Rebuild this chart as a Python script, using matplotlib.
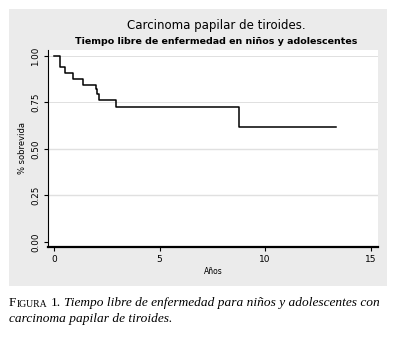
import matplotlib.pyplot as plt
from matplotlib.patches import Rectangle

# Kaplan-Meier steps
tiempo = [0, 0.28, 0.28, 0.5, 0.92, 1.39, 1.97, 2.02, 2.15, 2.95, 8.75, 13.36]
sobrevida = [1.0, 1.0, 0.939, 0.906, 0.874, 0.842, 0.82, 0.793, 0.761, 0.723, 0.62, 0.62]
yticks = [0.0, 0.25, 0.5, 0.75, 1.0]
ytick_labels = ['0.00', '0.25', '0.50', '0.75', '1.00']
xticks = [0, 5, 10, 15]

fig = plt.figure(figsize=(3.98, 3.5), dpi=100)
fig.patch.set_facecolor('white')
fig.add_artist(Rectangle((0.0226, 0.183), 0.9494, 0.791, transform=fig.transFigure,
                         facecolor='#ebebeb', edgecolor='none', zorder=0))

ax = fig.add_axes([0.1214, 0.2943, 0.8277, 0.5629])
ax.set_facecolor('white')
ax.step(tiempo, sobrevida, where='post', color='black', lw=1.1)

ax.set_xlim(-0.27, 15.34)
ax.set_ylim(-0.027, 1.032)
ax.set_yticks(yticks)
ax.set_yticklabels(ytick_labels, rotation=90, va='center', fontsize=6.3)
ax.set_xticks(xticks)
ax.set_xticklabels([str(t) for t in xticks], fontsize=6.5)
for y in yticks[1:]:
    ax.axhline(y, color='#e0e0e0', lw=1.0 if y in (0.25, 0.5) else 0.7, zorder=0)
ax.tick_params(axis='both', length=3, width=0.8, color='black', pad=3)
for s in ['top', 'right']:
    ax.spines[s].set_visible(False)
ax.spines['left'].set_linewidth(0.8)
ax.spines['bottom'].set_linewidth(1.6)
ax.set_ylabel('% sobrevida', fontsize=6, labelpad=3)
ax.set_xlabel('Años', fontsize=5.5, labelpad=2)

fig.text(0.543, 0.928, 'Carcinoma papilar de tiroides.', ha='center', va='center',
         fontsize=8.5)
fig.text(0.543, 0.88, 'Tiempo libre de enfermedad en niños y adolescentes', ha='center',
         va='center', fontsize=6.8, weight='semibold')

# caption, pieces chained one after the other
serif = 'Liberation Serif'
t1 = fig.text(0.0226, 0.126, 'F', fontsize=9.6, family=serif, va='baseline')
t2 = plt.annotate('IGURA', xy=(1, 0), xycoords=t1, xytext=(0.3, 0),
                  textcoords='offset points', fontsize=7, family=serif, va='bottom')
t3 = plt.annotate('1.', xy=(1, 0), xycoords=t2, xytext=(2.5, 0),
                  textcoords='offset points', fontsize=9.6, family=serif, va='bottom')
plt.annotate('Tiempo libre de enfermedad para niños y adolescentes con', xy=(1, 0),
             xycoords=t3, xytext=(2, 0), textcoords='offset points', fontsize=9.6,
             family=serif, style='italic', va='bottom')
fig.text(0.0226, 0.080, 'carcinoma papilar de tiroides.', fontsize=9.6,
         family=serif, style='italic', va='baseline')

fig.savefig('out.png', dpi=100)
